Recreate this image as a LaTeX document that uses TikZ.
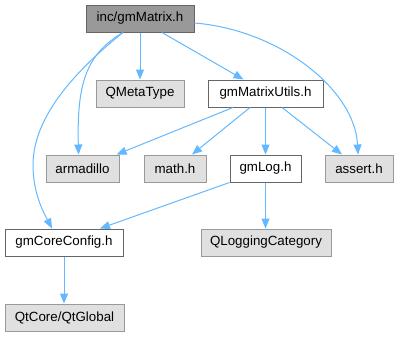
\documentclass[tikz,border=0pt]{standalone}
\usepackage{fontspec}
\setmainfont{Liberation Sans}
\usetikzlibrary{arrows.meta}
\definecolor{edgeblue}{HTML}{63B8FF}
\definecolor{greyfill}{HTML}{E0E0E0}
\definecolor{greyline}{HTML}{999999}
\definecolor{darkline}{HTML}{666666}
\definecolor{mainfill}{HTML}{999999}
\tikzset{
  box/.style={draw, line width=0.75pt, minimum height=27*0.75pt, inner sep=0pt, font=\fontsize{10pt}{12pt}\selectfont},
  ext/.style={box, fill=greyfill, draw=greyline},
  loc/.style={box, fill=white, draw=darkline},
  root/.style={box, fill=mainfill, draw=darkline},
  dep/.style={draw=edgeblue, line width=0.75pt, -{Triangle[length=7.5pt,width=6pt]}, color=edgeblue},
}
\begin{document}
\begin{tikzpicture}[x=0.75pt,y=-0.75pt]
\useasboundingbox (0,0) rectangle (399,336);
\node[root, minimum width=108*0.75pt] (m) at (140,18.5) {inc/gmMatrix.h};
\node[ext, minimum width=88*0.75pt] (qmeta) at (140,93.5) {QMetaType};
\node[loc, minimum width=115*0.75pt] (u) at (265.5,93.5) {gmMatrixUtils.h};
\node[ext, minimum width=73*0.75pt] (arm) at (82.5,168.5) {armadillo};
\node[ext, minimum width=62*0.75pt] (math) at (175,168.5) {math.h};
\node[loc, minimum width=71*0.75pt] (log) at (265.5,168.5) {gmLog.h};
\node[ext, minimum width=68*0.75pt] (assert) at (359,168.5) {assert.h};
\node[loc, minimum width=118*0.75pt] (core) at (64,242.5) {gmCoreConfig.h};
\node[ext, minimum width=130*0.75pt] (qlog) at (266,242.5) {QLoggingCategory};
\node[ext, minimum width=119*0.75pt] (qt) at (64.5,317.5) {QtCore/QtGlobal};

\draw[dep] (m.south) -- (qmeta.north);
\draw[dep] ([shift={(22,0)}]m.south) -- ([shift={(-22,0)}]u.north);
\draw[dep] ([shift={(0,4.5)}]m.east) .. controls (280,30) and (355,90) .. ([shift={(-1,0)}]assert.north);
\draw[dep] ([shift={(-17,0)}]m.south) .. controls (85,55) and (77,85) .. ([shift={(-4,0)}]arm.north);
\draw[dep] ([shift={(-17,0)}]m.south) .. controls (70,75) and (33,120) .. (33,165) .. controls (33,195) and (45,215) .. ([shift={(-12,0)}]core.north);
\draw[dep] ([shift={(-32.5,0)}]u.south) -- ([shift={(34,0)}]arm.north);
\draw[dep] ([shift={(-15.5,0)}]u.south) -- ([shift={(17,0)}]math.north);
\draw[dep] (u.south) -- (log.north);
\draw[dep] ([shift={(16.5,0)}]u.south) -- ([shift={(-17,0)}]assert.north);
\draw[dep] (log.south west) -- ([shift={(36,0)}]core.north);
\draw[dep] (log.south) -- (log.south |- qlog.north);
\draw[dep] (core.south) -- (core.south |- qt.north);
\end{tikzpicture}
\end{document}
